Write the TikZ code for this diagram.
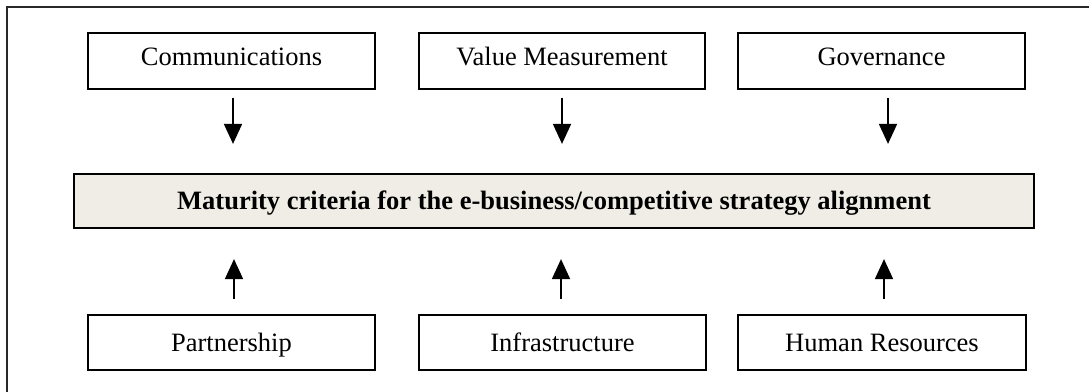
\documentclass[tikz,border=0pt]{standalone}
\usepackage{fontspec}
\setmainfont{Liberation Serif}
\usetikzlibrary{arrows.meta}
\definecolor{midfill}{RGB}{240,237,230}
\definecolor{framegray}{RGB}{40,40,40}
\begin{document}
\begin{tikzpicture}[x=1pt,y=-1pt,
  box/.style={draw=black,line width=2.2pt,inner sep=0pt,minimum height=56pt,
    font=\fontsize{26.5}{30}\selectfont,text height=17.5pt,text depth=0pt},
  topbox/.style={box,text depth=9.5pt},
  midbox/.style={box,fill=midfill,minimum width=960pt,minimum height=54pt,
    font=\fontsize{26.5}{30}\selectfont\bfseries},
  arr/.style={line width=1.8pt,-{Triangle[width=18pt,length=20pt]}}]
\useasboundingbox (0,0) rectangle (1089,391);
\draw[framegray,line width=2.6pt] (7,395) -- (7,7) -- (1095,7);
\node[topbox,minimum width=287pt] (comm) at (231.5,61) {Communications};
\node[topbox,minimum width=286pt] (val) at (562,61) {Value Measurement};
\node[topbox,minimum width=287pt] (gov) at (881.5,61) {Governance};
\node[midbox] (mid) at (554,201) {Maturity criteria for the e-business/competitive strategy alignment};
\node[box,minimum width=287pt,minimum height=55pt] (part) at (231.5,342.5) {Partnership};
\node[box,minimum width=287pt,minimum height=55pt] (infra) at (562.5,342.5) {Infrastructure};
\node[box,minimum width=288pt,minimum height=55pt] (hr) at (882,342.5) {Human Resources};
\draw[arr,shorten <=8pt,shorten >=29pt] ([xshift=1.5pt]comm.south) -- ([xshift=1.5pt]comm.south |- mid.north);
\draw[arr,shorten <=8pt,shorten >=29pt] (val.south) -- (val.south |- mid.north);
\draw[arr,shorten <=8pt,shorten >=29pt] ([xshift=6.5pt]gov.south) -- ([xshift=6.5pt]gov.south |- mid.north);
\draw[arr,shorten <=15pt,shorten >=30pt] ([xshift=2.5pt]part.north) -- ([xshift=2.5pt]part.north |- mid.south);
\draw[arr,shorten <=15pt,shorten >=30pt] ([xshift=-1.5pt]infra.north) -- ([xshift=-1.5pt]infra.north |- mid.south);
\draw[arr,shorten <=15pt,shorten >=30pt] ([xshift=2pt]hr.north) -- ([xshift=2pt]hr.north |- mid.south);
\end{tikzpicture}
\end{document}
